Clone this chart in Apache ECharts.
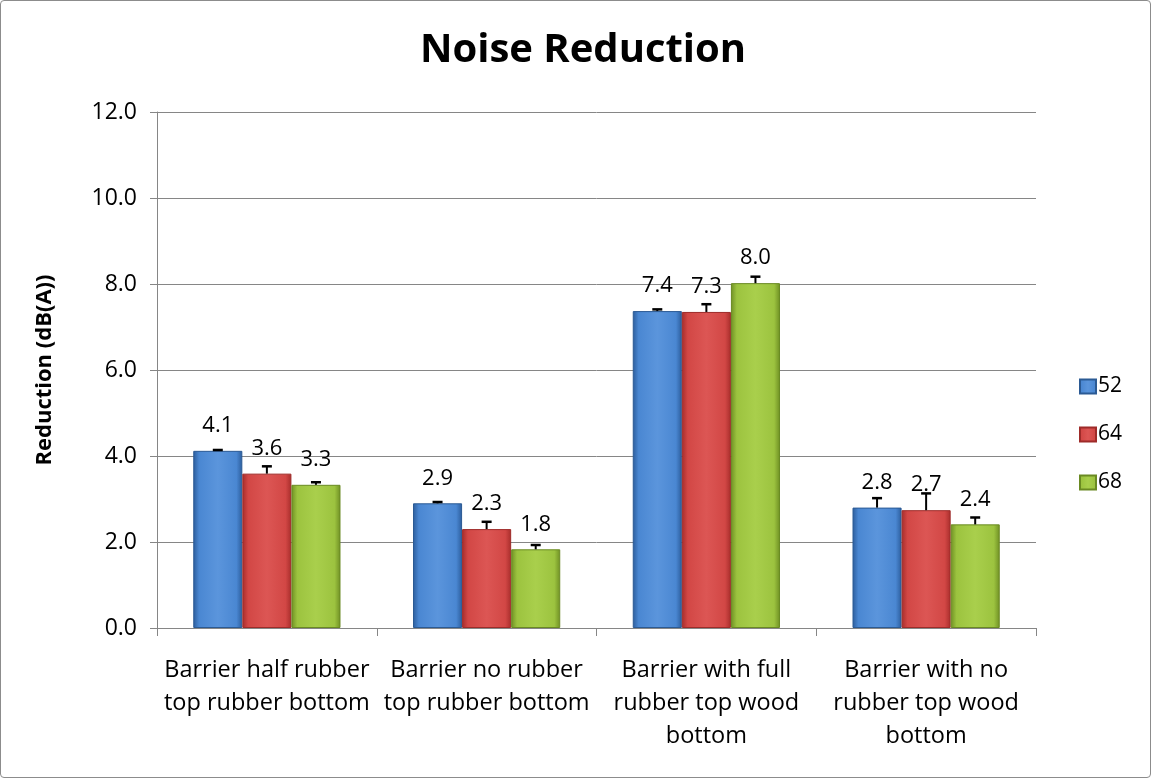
<!DOCTYPE html>
<html>
<head>
<meta charset="utf-8">
<script src="https://cdn.jsdelivr.net/npm/echarts@6/dist/echarts.min.js"></script>
<style>
html,body{margin:0;padding:0;background:#fff;}
#frame{position:absolute;left:0;top:0;width:1149px;height:776px;border:1px solid #8c8c8c;border-radius:4px;}
#chart{position:absolute;left:0;top:0;width:1151px;height:778px;}
</style>
</head>
<body>
<div id="frame"></div>
<div id="chart"></div>
<script>
var categories = ["Barrier half rubber\ntop rubber bottom", "Barrier no rubber\ntop rubber bottom", "Barrier with full\nrubber top wood\nbottom", "Barrier with no\nrubber top wood\nbottom"];
var seriesNames = ["52", "64", "68"];
var values52 = [4.12, 2.90, 7.37, 2.80];
var values64 = [3.59, 2.30, 7.35, 2.74];
var values68 = [3.33, 1.83, 8.02, 2.41];
var errors52 = [0.02, 0.03, 0.04, 0.22];
var errors64 = [0.17, 0.17, 0.18, 0.39];
var errors68 = [0.06, 0.10, 0.15, 0.16];
var yTicks = [0, 2, 4, 6, 8, 10, 12];

var FONT = "'Open Sans', 'Noto Sans', sans-serif";
var values = [values52, values64, values68];
var errors = [errors52, errors64, errors68];
var gradients = [
  ['#2c5d9c', '#4a87d2', '#5b95dc', '#4a87d2', '#2c5d9c'],
  ['#a72d2b', '#d24745', '#dc5654', '#d24745', '#a72d2b'],
  ['#6f8f24', '#9cc33f', '#a9cf4c', '#9cc33f', '#6f8f24']
];
var borders = ['#2b5a94', '#9e2b29', '#6a8a22'];
var CAT_GAP = 0.33;

function grad(c){
  return new echarts.graphic.LinearGradient(0,0,1,0,[
    {offset:0,color:c[0]},{offset:0.12,color:c[1]},{offset:0.5,color:c[2]},{offset:0.88,color:c[3]},{offset:1,color:c[4]}
  ]);
}

var series = [];
seriesNames.forEach(function(name, i){
  series.push({
    name: name,
    type: 'bar',
    data: values[i],
    barGap: '0%',
    barCategoryGap: (CAT_GAP*100)+'%',
    itemStyle: {color: grad(gradients[i]), borderColor: borders[i], borderWidth: 1},
    label: {
      show: true, position: 'top', distance: 14,
      fontFamily: FONT, fontSize: 22, color: '#000',
      formatter: function(p){ return p.value.toFixed(1); }
    },
    emphasis: {disabled: true}
  });
});
seriesNames.forEach(function(name, i){
  series.push({
    type: 'custom',
    silent: true,
    z: 10,
    data: values[i].map(function(v, k){ return [k, v, errors[i][k]]; }),
    renderItem: function(params, api){
      var k = api.value(0), v = api.value(1), e = api.value(2);
      var band = api.size([1, 0])[0];
      var bw = band * (1 - CAT_GAP) / 3;
      var base = api.coord([k, v]);
      var top = api.coord([k, v + e]);
      var x = base[0] + (i - 1) * bw;
      var cap = 5;
      return {
        type: 'group',
        children: [
          {type: 'line', shape: {x1: x, y1: base[1], x2: x, y2: top[1]}, style: {stroke: '#000', lineWidth: 2}},
          {type: 'line', shape: {x1: x - cap, y1: top[1], x2: x + cap, y2: top[1]}, style: {stroke: '#000', lineWidth: 2.5}}
        ]
      };
    }
  });
});

var chart = echarts.init(document.getElementById('chart'), null, {renderer: 'canvas'});
chart.setOption({
  animation: false,
  backgroundColor: 'transparent',
  title: {
    text: 'Noise Reduction',
    left: 578, top: 26, textAlign: 'center',
    textStyle: {fontFamily: FONT, fontWeight: 'bold', fontSize: 40, color: '#000'}
  },
  legend: {
    orient: 'vertical',
    left: 1074, top: 371,
    icon: 'rect',
    itemWidth: 16, itemHeight: 14, itemGap: 27,
    data: seriesNames,
    textStyle: {fontFamily: FONT, fontSize: 21, color: '#000', padding: [0,0,0,-3]}
  },
  grid: {left: 157, right: 115, top: 112, bottom: 150},
  xAxis: {
    type: 'category',
    data: categories,
    axisLine: {lineStyle: {color: '#868686', width: 1}},
    axisTick: {show: true, length: 8, lineStyle: {color: '#868686'}},
    axisLabel: {fontFamily: FONT, fontSize: 23.5, color: '#000', lineHeight: 33, margin: 26, interval: 0}
  },
  yAxis: {
    type: 'value',
    min: yTicks[0], max: yTicks[yTicks.length - 1], interval: 2,
    name: 'Reduction (dB(A))',
    nameLocation: 'middle', nameGap: 101, nameRotate: 90,
    nameTextStyle: {fontFamily: FONT, fontWeight: 'bold', fontSize: 22, color: '#000'},
    axisLine: {show: true, lineStyle: {color: '#868686'}},
    axisTick: {show: true, length: 7, lineStyle: {color: '#868686'}},
    splitLine: {lineStyle: {color: '#868686', width: 1}},
    axisLabel: {fontFamily: FONT, fontSize: 23, color: '#000', margin: 20, formatter: function(v){ return v.toFixed(1); }}
  },
  series: series
});
</script>
</body>
</html>
